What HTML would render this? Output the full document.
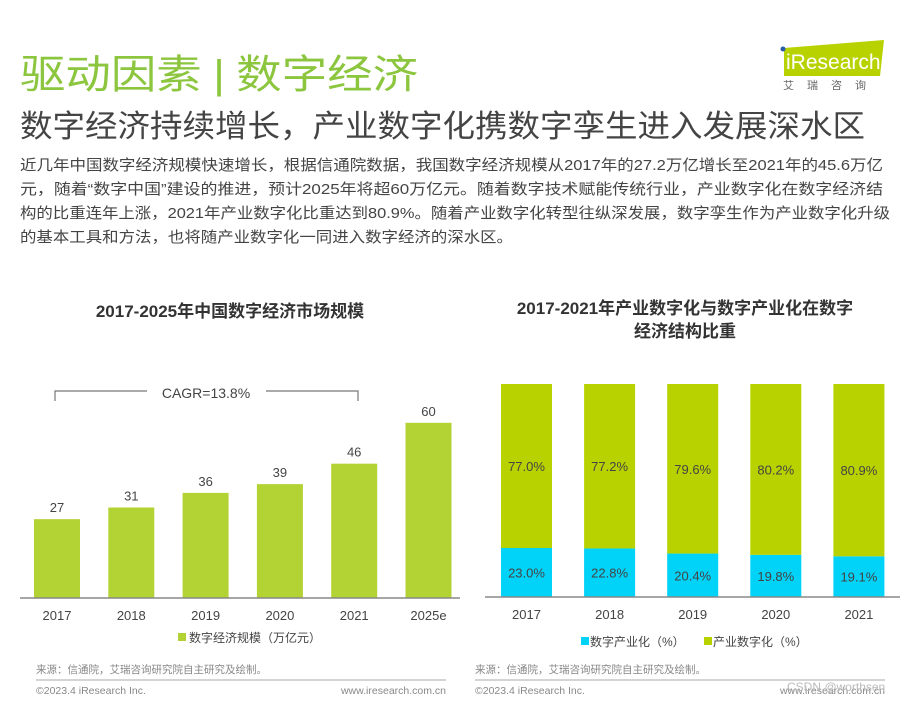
<!DOCTYPE html>
<html><head><meta charset="utf-8">
<style>
body{margin:0;width:907px;height:701px;background:#fff;font-family:"Liberation Sans","Noto Sans CJK SC",sans-serif;overflow:hidden;position:relative;color:#444}
.a{position:absolute;white-space:nowrap}
.fit{transform-origin:0 0;display:inline-block}
</style></head><body>
<div class="a fit" data-w="398" style="left:20px;top:42px;font-size:40px;color:#8cc63f">驱动因素<span style="margin:0 10px;font-weight:300">|</span>数字经济</div>
<div class="a" style="left:778px;top:40px;width:120px;height:50px">
<svg width="120" height="50"><polygon points="6,8 106,0 102,36 6,36" fill="#b8d200"/><circle cx="5" cy="9" r="2.5" fill="#2a5caa"/><text x="8" y="29" font-size="21" fill="#fff" font-family="Liberation Sans">iResearch</text><text x="5" y="49" font-size="11" fill="#666" letter-spacing="13" font-family="Noto Sans CJK SC">艾瑞咨询</text></svg></div>
<div class="a fit" data-w="845" style="left:20px;top:101px;font-size:31px;color:#444">数字经济持续增长，产业数字化携数字孪生进入发展深水区</div>
<div>
<div class="a fit" data-w="863" style="left:20px;top:154px;font-size:15px">近几年中国数字经济规模快速增长，根据信通院数据，我国数字经济规模从2017年的27.2万亿增长至2021年的45.6万亿</div>
<div class="a fit" data-w="863" style="left:20px;top:178px;font-size:15px">元，随着“数字中国”建设的推进，预计2025年将超60万亿元。随着数字技术赋能传统行业，产业数字化在数字经济结</div>
<div class="a fit" data-w="870" style="left:20px;top:202px;font-size:15px">构的比重连年上涨，2021年产业数字化比重达到80.9%。随着产业数字化转型往纵深发展，数字孪生作为产业数字化升级</div>
<div class="a fit" data-w="493" style="left:20px;top:226px;font-size:15px">的基本工具和方法，也将随产业数字化一同进入数字经济的深水区。</div>
</div>
<div class="a" style="left:0;width:460px;text-align:center;top:297px;font-size:17px;font-weight:bold;color:#333">2017-2025年中国数字经济市场规模</div>
<div class="a" style="left:470px;width:430px;text-align:center;top:297px;font-size:17px;font-weight:bold;color:#333;line-height:23px">2017-2021年产业数字化与数字产业化在数字<br>经济结构比重</div>
<svg class="a" style="left:0;top:0" width="907" height="701" id="chart"></svg>
<script>
const cats1=["2017","2018","2019","2020","2021","2025e"];
const vals1=[27,31,36,39,46,60];
const labels1=["27","31","36","39","46","60"];
const cats2=["2017","2018","2019","2020","2021"];
const digIndustry=[23.0,22.8,20.4,19.8,19.1];
const indDigital=[77.0,77.2,79.6,80.2,80.9];
document.querySelectorAll('.fit').forEach(el=>{const w=el.getBoundingClientRect().width;const t=+el.getAttribute('data-w');if(w>0)el.style.transform='scaleX('+(t/w)+')';});
const NS="http://www.w3.org/2000/svg";
const svg=document.getElementById('chart');
function mk(t,a,txt,name){const e=document.createElementNS(NS,t);for(const k in a)e.setAttribute(k,a[k]);if(txt!==undefined)e.textContent=txt;


svg.appendChild(e);return e;}
const base1=598,k1=2.92;
const x1=i=>34+i*74.3;
const y1=v=>base1-v*k1;
cats1.forEach((c,i)=>{
 mk('rect',{x:x1(i),y:y1(vals1[i]),width:46,height:base1-y1(vals1[i]),fill:'#b3d234'},undefined,'bar-'+c);
 mk('text',{x:x1(i)+23,y:y1(vals1[i])-7,'text-anchor':'middle','font-size':13,fill:'#444'},labels1[i],'value-label-'+c);
 mk('text',{x:x1(i)+23,y:620,'text-anchor':'middle','font-size':13,fill:'#444'},c,'x-label-'+c);
});
mk('line',{x1:20,y1:base1,x2:460,y2:base1,stroke:'#888','stroke-width':1.5},undefined,'left-x-axis');
mk('path',{d:'M55,401 V391 H147 M266,391 H358 V401',fill:'none',stroke:'#777','stroke-width':1.2},undefined,'cagr-bracket');
mk('text',{x:206,y:398,'text-anchor':'middle','font-size':14,fill:'#444'},'CAGR=13.8%','cagr-label');
mk('rect',{x:178,y:633,width:8,height:8,fill:'#b3d234'},undefined,'legend-swatch-scale');
mk('text',{x:189,y:642,'font-size':12,fill:'#444'},'数字经济规模（万亿元）','legend-entry-scale');
const base2=597,k2=2.13;
const x2=i=>501+i*83.1;
const y2=v=>v*k2;
cats2.forEach((c,i)=>{
 const h1=y2(digIndustry[i]),h2=y2(indDigital[i]);
 mk('rect',{x:x2(i),y:base2-h1,width:51,height:h1,fill:'#00d2f8'},undefined,'bar-digital-industry-'+c);
 mk('rect',{x:x2(i),y:base2-h1-h2,width:51,height:h2,fill:'#b8d200'},undefined,'bar-industry-digital-'+c);
 mk('text',{x:x2(i)+25.5,y:base2-h1/2+5,'text-anchor':'middle','font-size':13,fill:'#444'},digIndustry[i].toFixed(1)+'%','label-digital-industry-'+c);
 mk('text',{x:x2(i)+25.5,y:base2-h1-h2/2+5,'text-anchor':'middle','font-size':13,fill:'#444'},indDigital[i].toFixed(1)+'%','label-industry-digital-'+c);
 mk('text',{x:x2(i)+25.5,y:619,'text-anchor':'middle','font-size':13,fill:'#444'},c,'x-label-right-'+c);
});
mk('line',{x1:485,y1:base2,x2:900,y2:base2,stroke:'#888','stroke-width':1.5},undefined,'right-x-axis');
mk('rect',{x:581,y:637,width:8,height:8,fill:'#00d2f8'},undefined,'legend-swatch-digital-industry');
mk('text',{x:590,y:646,'font-size':12,fill:'#444'},'数字产业化（%）','legend-entry-digital-industry');
mk('rect',{x:704,y:637,width:8,height:8,fill:'#b8d200'},undefined,'legend-swatch-industry-digital');
mk('text',{x:713,y:646,'font-size':12,fill:'#444'},'产业数字化（%）','legend-entry-industry-digital');
[[36,446],[475,885]].forEach((p,j)=>{
 mk('text',{x:p[0],y:673,'font-size':10.5,fill:'#888'},'来源：信通院，艾瑞咨询研究院自主研究及绘制。','source-note-'+j);
 mk('line',{x1:p[0],y1:680,x2:p[1],y2:680,stroke:'#bbb','stroke-width':1.2},undefined,'footer-line-'+j);
 mk('text',{x:p[0],y:694,'font-size':10.5,fill:'#888'},'©2023.4 iResearch Inc.','copyright-'+j);
 mk('text',{x:p[1],y:694,'font-size':10.5,fill:'#888','text-anchor':'end'},'www.iresearch.com.cn','website-'+j);
});
mk('text',{x:787,y:691,'font-size':12,fill:'#bbb'},'CSDN @worthsen','watermark');
</script>
</body></html>
